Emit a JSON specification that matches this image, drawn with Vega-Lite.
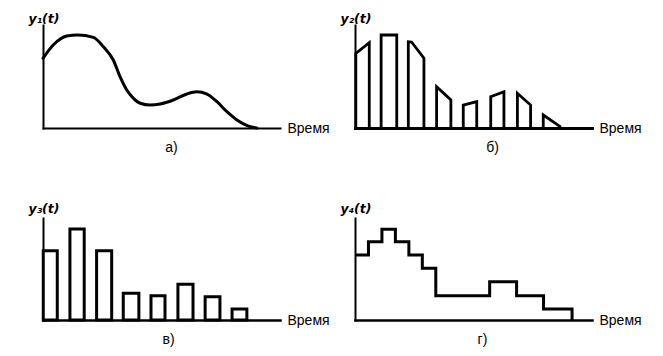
{
  "$schema": "https://vega.github.io/schema/vega-lite/v6.json",
  "background": "white",
  "padding": {"left": 28, "top": 12, "right": 0, "bottom": 0},
  "columns": 2,
  "bounds": "flush",
  "spacing": {"row": 90, "column": 75},
  "config": {
    "view": {"stroke": null},
    "axis": {"grid": false, "ticks": false, "labels": false, "domainColor": "black", "domainWidth": 2, "domainCap": "square", "titleColor": "black", "titleFont": "Liberation Sans"},
    "axisY": {"titleAngle": 0, "titleAlign": "left", "titleBaseline": "top", "titleX": -15, "titleY": -13, "titleFont": "DejaVu Sans", "titleFontSize": 12.5, "titleFontStyle": "italic", "titleFontWeight": "bold"},
    "axisX": {"titleX": 244, "titleY": 0, "titleAlign": "left", "titleBaseline": "middle", "titleFontSize": 14, "titleFontWeight": "normal"},
    "title": {"orient": "bottom", "anchor": "middle", "frame": "group", "font": "Liberation Sans", "fontSize": 14, "fontWeight": "normal", "color": "black", "offset": 6}
  },
  "datasets": {
    "curve": [
      {"t": 0.0, "v": 67.7}, {"t": 0.38, "v": 80.6}, {"t": 0.88, "v": 89.3}, {"t": 1.29, "v": 90.3},
      {"t": 1.87, "v": 88.0}, {"t": 2.24, "v": 79.0}, {"t": 2.61, "v": 66.0}, {"t": 2.86, "v": 49.8},
      {"t": 3.11, "v": 36.9}, {"t": 3.36, "v": 28.8}, {"t": 3.61, "v": 24.0}, {"t": 3.98, "v": 22.3},
      {"t": 4.35, "v": 23.3}, {"t": 4.84, "v": 27.2}, {"t": 5.34, "v": 33.0}, {"t": 5.71, "v": 35.2},
      {"t": 6.09, "v": 33.0}, {"t": 6.46, "v": 25.5}, {"t": 6.83, "v": 15.8}, {"t": 7.2, "v": 7.8},
      {"t": 7.63, "v": 1.9}, {"t": 7.94, "v": 0.0}
    ],
    "pulses": [
      {"pulse": 1, "i": 0, "t": 0.03, "v": 0}, {"pulse": 1, "i": 1, "t": 0.03, "v": 72.5}, {"pulse": 1, "i": 2, "t": 0.53, "v": 82.8}, {"pulse": 1, "i": 3, "t": 0.53, "v": 0},
      {"pulse": 2, "i": 0, "t": 0.97, "v": 0}, {"pulse": 2, "i": 1, "t": 0.97, "v": 90.3}, {"pulse": 2, "i": 2, "t": 1.55, "v": 90.3}, {"pulse": 2, "i": 3, "t": 1.55, "v": 0},
      {"pulse": 3, "i": 0, "t": 1.98, "v": 0}, {"pulse": 3, "i": 1, "t": 1.98, "v": 83.8}, {"pulse": 3, "i": 2, "t": 2.1, "v": 83.5}, {"pulse": 3, "i": 3, "t": 2.56, "v": 67.7}, {"pulse": 3, "i": 4, "t": 2.56, "v": 0},
      {"pulse": 4, "i": 0, "t": 3.03, "v": 0}, {"pulse": 4, "i": 1, "t": 3.03, "v": 40.0}, {"pulse": 4, "i": 2, "t": 3.56, "v": 27.2}, {"pulse": 4, "i": 3, "t": 3.56, "v": 0},
      {"pulse": 5, "i": 0, "t": 4.02, "v": 0}, {"pulse": 5, "i": 1, "t": 4.02, "v": 22.3}, {"pulse": 5, "i": 2, "t": 4.52, "v": 25.6}, {"pulse": 5, "i": 3, "t": 4.52, "v": 0},
      {"pulse": 6, "i": 0, "t": 5.04, "v": 0}, {"pulse": 6, "i": 1, "t": 5.04, "v": 30.4}, {"pulse": 6, "i": 2, "t": 5.53, "v": 35.2}, {"pulse": 6, "i": 3, "t": 5.53, "v": 0},
      {"pulse": 7, "i": 0, "t": 6.03, "v": 0}, {"pulse": 7, "i": 1, "t": 6.03, "v": 33.7}, {"pulse": 7, "i": 2, "t": 6.52, "v": 22.3}, {"pulse": 7, "i": 3, "t": 6.52, "v": 0},
      {"pulse": 8, "i": 0, "t": 6.99, "v": 0}, {"pulse": 8, "i": 1, "t": 6.99, "v": 12.6}, {"pulse": 8, "i": 2, "t": 7.61, "v": 1.5}, {"pulse": 8, "i": 3, "t": 7.61, "v": 0}
    ],
    "bars": [
      {"t0": 0.01, "t1": 0.53, "v": 67.9},
      {"t0": 1.0, "t1": 1.53, "v": 89.2},
      {"t0": 1.99, "t1": 2.55, "v": 67.9},
      {"t0": 2.98, "t1": 3.56, "v": 26.2},
      {"t0": 4.01, "t1": 4.53, "v": 23.8},
      {"t0": 5.01, "t1": 5.57, "v": 35.0},
      {"t0": 6.02, "t1": 6.57, "v": 22.8},
      {"t0": 7.02, "t1": 7.57, "v": 10.8}
    ],
    "steps": [
      {"t": 0.0, "v": 63.7}, {"t": 0.5, "v": 76.8}, {"t": 1.0, "v": 88.9}, {"t": 1.5, "v": 76.8},
      {"t": 2.0, "v": 63.7}, {"t": 2.5, "v": 50.7}, {"t": 3.0, "v": 23.8}, {"t": 5.0, "v": 37.5},
      {"t": 6.0, "v": 23.8}, {"t": 7.0, "v": 10.8}, {"t": 8.06, "v": 0}
    ]
  },
  "concat": [
    {
      "width": 237, "height": 103,
      "title": {"text": "а)", "dx": 10},
      "data": {"name": "curve"},
      "mark": {"type": "line", "color": "black", "strokeWidth": 3, "interpolate": "monotone", "strokeCap": "round"},
      "encoding": {
        "x": {"field": "t", "type": "quantitative", "scale": {"domain": [0, 8.8], "nice": false, "zero": false}, "axis": {"title": "Время"}},
        "y": {"field": "v", "type": "quantitative", "scale": {"domain": [0, 100], "nice": false}, "axis": {"title": "y₁(t)"}}
      }
    },
    {
      "width": 237, "height": 103,
      "title": {"text": "б)", "dx": 19},
      "data": {"name": "pulses"},
      "mark": {"type": "line", "color": "black", "strokeWidth": 2.8},
      "encoding": {
        "x": {"field": "t", "type": "quantitative", "scale": {"domain": [0, 8.8], "nice": false, "zero": false}, "axis": {"title": "Время", "domainWidth": 3}},
        "y": {"field": "v", "type": "quantitative", "scale": {"domain": [0, 100], "nice": false}, "axis": {"title": "y₂(t)"}},
        "detail": {"field": "pulse", "type": "nominal"},
        "order": {"field": "i", "type": "quantitative"}
      }
    },
    {
      "width": 237, "height": 102,
      "title": {"text": "в)", "dx": 7},
      "data": {"name": "bars"},
      "mark": {"type": "bar", "fill": "white", "stroke": "black", "strokeWidth": 3},
      "encoding": {
        "x": {"field": "t0", "type": "quantitative", "scale": {"domain": [0, 8.8], "nice": false, "zero": false}, "axis": {"title": "Время", "domainWidth": 2.5}},
        "x2": {"field": "t1"},
        "y": {"field": "v", "type": "quantitative", "scale": {"domain": [0, 100], "nice": false}, "axis": {"title": "y₃(t)", "titleY": -16}},
        "y2": {"datum": 0}
      }
    },
    {
      "width": 237, "height": 102,
      "title": {"text": "г)", "dx": 9},
      "data": {"name": "steps"},
      "mark": {"type": "line", "color": "black", "strokeWidth": 3, "interpolate": "step-after"},
      "encoding": {
        "x": {"field": "t", "type": "quantitative", "scale": {"domain": [0, 8.8], "nice": false, "zero": false}, "axis": {"title": "Время", "domainWidth": 2.5}},
        "y": {"field": "v", "type": "quantitative", "scale": {"domain": [0, 100], "nice": false}, "axis": {"title": "y₄(t)", "titleY": -16}}
      }
    }
  ]
}
